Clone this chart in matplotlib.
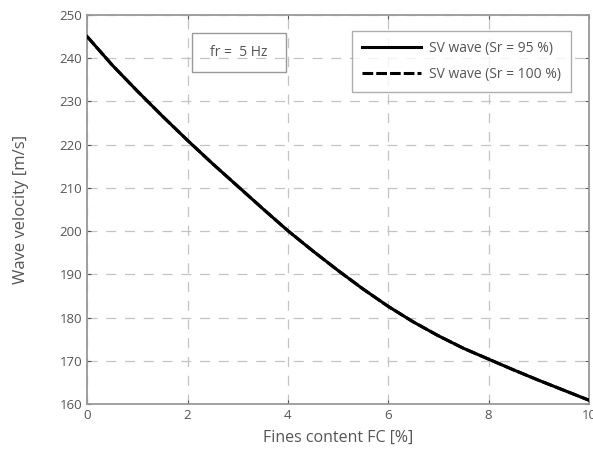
import numpy as np
import matplotlib
matplotlib.use('Agg')
import matplotlib.pyplot as plt
from matplotlib.patches import Rectangle

fines_content = [0, 0.5, 1, 1.5, 2, 2.5, 3, 3.5, 4, 4.5, 5,
                 5.5, 6, 6.5, 7, 7.5, 8, 8.5, 9, 9.5, 10]
vs_sr95 = [245.0, 238.4, 232.4, 226.6, 221.0, 215.6, 210.4, 205.2, 200.1, 195.4, 190.9,
           186.6, 182.6, 179.0, 175.8, 172.9, 170.4, 167.9, 165.5, 163.2, 160.9]
vs_sr100 = [245.0, 238.4, 232.4, 226.6, 221.0, 215.6, 210.4, 205.2, 200.1, 195.4, 190.9,
            186.6, 182.6, 179.0, 175.8, 172.9, 170.4, 167.9, 165.5, 163.2, 160.9]

plt.rcParams['font.family'] = ['Open Sans', 'DejaVu Sans']
txt = '#555555'

fig = plt.figure(figsize=(5.93, 4.54), dpi=100)
ax = fig.add_axes([0.147, 0.110, 0.846, 0.857])

ax.plot(fines_content, vs_sr100, color='black', lw=2.2, dashes=(3.5, 1),
        label='SV wave (Sr = 100 %)', zorder=3)
ax.plot(fines_content, vs_sr95, '-', color='black', lw=2.2, label='SV wave (Sr = 95 %)', zorder=4)

ax.set_xlim(0, 10)
ax.set_ylim(160, 250)
ax.set_xticks(range(0, 11, 2))
ax.set_yticks(range(160, 251, 10))
ax.grid(True, ls=(0, (8, 7)), color='#c4c4c4', lw=0.9)
ax.tick_params(direction='in', colors=txt, labelsize=9.5, length=3, top=True, right=True)
for s in ax.spines.values():
    s.set_color('#999999')
    s.set_linewidth(1.3)

ax.set_xlabel('Fines content FC [%]', color=txt, fontsize=11.5, labelpad=6)
ax.set_ylabel('Wave velocity [m/s]', color=txt, fontsize=12, labelpad=22)

handles, labels = ax.get_legend_handles_labels()
leg = ax.legend(handles[::-1], labels[::-1], loc='upper right', bbox_to_anchor=(0.979, 0.977),
                fontsize=10, fancybox=False, edgecolor='#999999', handlelength=4.2,
                labelspacing=0.75, borderpad=0.75, handletextpad=0.6, labelcolor=txt)
leg.get_frame().set_linewidth(1.0)

ax.add_patch(Rectangle((0.209, 0.853), 0.187, 0.101, transform=ax.transAxes, fill=False,
                       ec='#999999', lw=1.0, zorder=5))
ax.text(0.303, 0.904, 'fr =  5 Hz', transform=ax.transAxes, ha='center', va='center',
        color=txt, fontsize=10)

fig.savefig('out.png', dpi=100)
